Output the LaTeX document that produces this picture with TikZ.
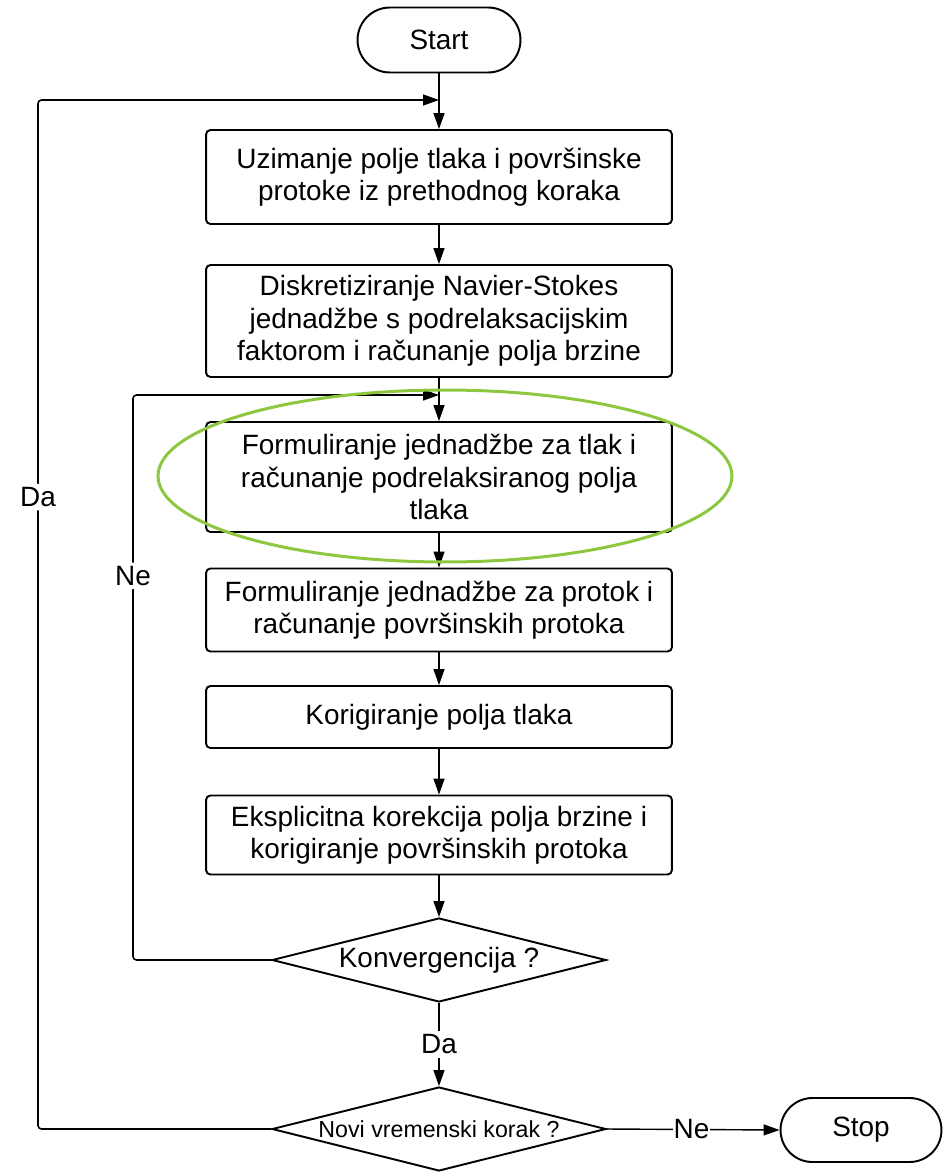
\documentclass[tikz,border=0pt]{standalone}
\usepackage{fontspec}
\setmainfont{Liberation Sans}
\usetikzlibrary{arrows.meta, positioning, calc, shapes.geometric, shapes.misc}
\definecolor{ringcol}{RGB}{141,198,63}

\begin{document}
\begin{tikzpicture}[
  x=0.02cm, y=-0.02cm,
  >={Triangle[length=3.2mm, width=2.2mm]},
  stepbox/.style  = {draw, line width=1.1pt, rounded corners=2.5pt, align=center,
                     minimum width=9.32cm, inner sep=2pt, fill=white,
                     font=\fontsize{15.9}{18.4}\selectfont},
  term/.style     = {draw, line width=1.1pt, rounded rectangle, align=center,
                     minimum width=3.4cm, minimum height=1.3cm, inner sep=2pt,
                     font=\fontsize{15.9}{18.4}\selectfont},
  decide/.style   = {draw, line width=1.1pt, diamond, aspect=4, inner sep=0pt,
                     minimum width=6.68cm, minimum height=1.68cm,
                     font=\fontsize{15.9}{18.4}\selectfont},
  arr/.style      = {->, line width=0.8pt},
  loop/.style     = {->, line width=0.9pt, rounded corners=2pt},
  lbl/.style      = {fill=white, inner sep=2pt, font=\fontsize{15.9}{18.4}\selectfont},
  hlring/.style   = {draw=ringcol, line width=1.7pt},
]
\useasboundingbox (0,0) rectangle (947,1172);

% ---------- main column ----------
\node[term]    (start) at (439,40)  {Start};
\node[stepbox, minimum height=1.88cm] (uzim) at (439,177)
  {Uzimanje polje tlaka i površinske\\protoke iz prethodnog koraka};
\node[stepbox, minimum height=2.24cm] (diskr) at (439,321)
  {Diskretiziranje Navier-Stokes\\jednadžbe s podrelaksacijskim\\faktorom i računanje polja brzine};
\node[stepbox, minimum height=2.2cm]  (tlak) at (439,477)
  {Formuliranje jednadžbe za tlak i\\računanje podrelaksiranog polja\\tlaka};
\node[stepbox, minimum height=1.66cm] (protok) at (439,610)
  {Formuliranje jednadžbe za protok i\\računanje površinskih protoka};
\node[stepbox, minimum height=1.24cm] (korig) at (439,717)
  {Korigiranje polja tlaka};
\node[stepbox, minimum height=1.58cm] (ekspl) at (439,835)
  {Eksplicitna korekcija polja brzine i\\korigiranje površinskih protoka};
\node[decide]  (konv) at (439,960)  {Konvergencija ?};
\node[decide, font=\fontsize{13.2}{15.6}\selectfont] (novi) at (439,1129)
  {Novi vremenski korak ?};
\node[term, minimum width=3.36cm, minimum height=1.28cm] (stop) at (861,1130) {Stop};

% junctions where the loops come back in
\coordinate (jDa) at (439,100);
\coordinate (jNe) at (439,395);

\draw[arr] (start.south) -- (uzim.north);
\draw[arr] (uzim.south)  -- (diskr.north);
\draw[arr] (diskr.south) -- (tlak.north);
\draw[arr] (tlak.south)  -- (protok.north);
\draw[arr] (protok.south) -- (korig.north);
\draw[arr] (korig.south) -- (ekspl.north);
\draw[arr] (ekspl.south) -- (konv.north);
\draw[arr] (konv.south)  -- (novi.north) node[lbl,pos=0.5]{Da};
\draw[arr] (novi.east)   -- (stop.west)  node[lbl,pos=0.49,inner sep=0.5pt]{Ne};

% ---------- feedback loops ----------
\draw[loop] (konv.west) -| (133,395) node[lbl,pos=0.84]{Ne} -- (jNe);
\draw[loop] (novi.west) -| (38,100) node[lbl,pos=0.807]{Da} -- (jDa);

% ---------- highlight ----------
\draw[hlring] (445,476) ellipse [x radius=5.74cm, y radius=1.72cm];

\end{tikzpicture}
\end{document}
